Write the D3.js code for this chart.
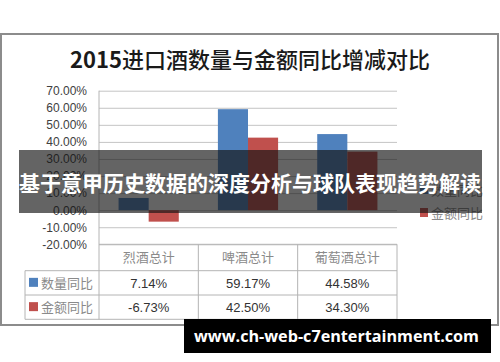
<!DOCTYPE html>
<html lang="zh">
<head>
<meta charset="UTF-8">
<title>2015进口酒数量与金额同比增减对比</title>
<script src="https://d3js.org/d3.v7.min.js"></script>
<style>
  body { margin: 0; background: #fff; }
  svg { display: block; font-family: "Noto Sans CJK SC", "Noto Sans", sans-serif; }
  .y-axis path { display: none; }
  .y-axis text { fill: #404040; font-size: 12px; font-family: "Liberation Sans", "Noto Sans", sans-serif; }
  .grid line { stroke: #c4c4c4; }
  .grid path { display: none; }
</style>
</head>
<body>
<svg id="chart" width="500" height="362"></svg>
<script>
// chart data
const categories = ["烈酒总计", "啤酒总计", "葡萄酒总计"];
const seriesNames = ["数量同比", "金额同比"];
const qtyValues = [7.14, 59.17, 44.58];   // 数量同比 (%)
const amtValues = [-6.73, 42.50, 34.30];  // 金额同比 (%)
const yTicks = [-20, -10, 0, 10, 20, 30, 40, 50, 60, 70];
const colors = ["#4f81bd", "#c0504d"];

const svg = d3.select("#chart");

// outer frame
svg.append("rect")
  .attr("x", 1).attr("y", 34).attr("width", 497).attr("height", 291)
  .attr("fill", "#fff").attr("stroke", "#8c8c8c").attr("stroke-width", 2);

// title
const title = svg.append("text")
  .attr("x", 250).attr("y", 68)
  .attr("text-anchor", "middle")
  .attr("font-size", 22).attr("fill", "#1a1a1a");
title.append("tspan").attr("font-weight", "bold").text("2015");
title.append("tspan").attr("font-weight", 500).text("进口酒数量与金额同比增减对比");

const plot = { left: 99, right: 397, top: 90.7, bottom: 244.3 };

const y = d3.scaleLinear().domain([-20, 70]).range([plot.bottom, plot.top]);
const x = d3.scaleBand().domain(categories).range([plot.left, plot.right]);
const x1 = d3.scaleBand().domain(seriesNames).range([0, x.bandwidth()])
  .paddingInner(0).paddingOuter(0.65);

// gridlines
svg.append("g").attr("class", "grid")
  .attr("transform", `translate(${plot.left},0)`)
  .call(d3.axisLeft(y).tickValues(yTicks).tickSize(-(plot.right - plot.left)).tickFormat(""));

// y axis labels
svg.append("g").attr("class", "y-axis")
  .attr("transform", `translate(${plot.left - 12},0)`)
  .call(d3.axisLeft(y).tickValues(yTicks).tickSize(0).tickPadding(0)
    .tickFormat(d => d.toFixed(2) + "%"));

// bars
const rows = categories.map((c, i) => ({ cat: c, vals: [qtyValues[i], amtValues[i]] }));
const groups = svg.append("g").selectAll("g").data(rows).join("g")
  .attr("transform", d => `translate(${x(d.cat)},0)`);
groups.selectAll("rect")
  .data(d => d.vals.map((v, j) => ({ s: seriesNames[j], v, j })))
  .join("rect")
  .attr("x", d => x1(d.s))
  .attr("width", x1.bandwidth())
  .attr("y", d => y(Math.max(0, d.v)))
  .attr("height", d => Math.abs(y(d.v) - y(0)))
  .attr("fill", d => colors[d.j]);

// data table
const tbl = { top: plot.bottom, rowH: [26.4, 24.3, 24.3], legendLeft: 25 };
const rowY = [tbl.top, tbl.top + tbl.rowH[0], tbl.top + tbl.rowH[0] + tbl.rowH[1]];
const tblBottom = rowY[2] + tbl.rowH[2];
const lineColor = "#b4b4b4";
const tg = svg.append("g");

// horizontal lines
tg.append("line").attr("x1", plot.left).attr("x2", plot.right)
  .attr("y1", rowY[0]).attr("y2", rowY[0]).attr("stroke", lineColor);
[rowY[1], rowY[2], tblBottom].forEach(yy => {
  tg.append("line").attr("x1", tbl.legendLeft).attr("x2", plot.right)
    .attr("y1", yy).attr("y2", yy).attr("stroke", lineColor);
});
// vertical lines
tg.append("line").attr("x1", tbl.legendLeft).attr("x2", tbl.legendLeft)
  .attr("y1", rowY[1]).attr("y2", tblBottom).attr("stroke", lineColor);
tg.append("line").attr("x1", plot.left).attr("x2", plot.left)
  .attr("y1", plot.top).attr("y2", tblBottom).attr("stroke", lineColor);
categories.forEach(c => {
  const xx = x(c) + x.bandwidth();
  tg.append("line").attr("x1", xx).attr("x2", xx)
    .attr("y1", rowY[0]).attr("y2", tblBottom).attr("stroke", lineColor);
});

// header labels
tg.selectAll(".cat").data(categories).join("text")
  .attr("x", d => x(d) + x.bandwidth() / 2)
  .attr("y", rowY[0] + 18)
  .attr("text-anchor", "middle")
  .attr("font-size", 13).attr("fill", "#8a8a8a")
  .text(d => d);

// legend keys + values
[qtyValues, amtValues].forEach((vals, j) => {
  const cy = rowY[j + 1] + tbl.rowH[j + 1] / 2;
  tg.append("rect").attr("x", 29).attr("y", cy - 5).attr("width", 9).attr("height", 9)
    .attr("fill", colors[j]);
  tg.append("text").attr("x", 41).attr("y", cy + 5)
    .attr("font-size", 13).attr("fill", "#8a8a8a").text(seriesNames[j]);
  tg.selectAll(".v" + j).data(vals).join("text")
    .attr("x", (d, i) => x(categories[i]) + x.bandwidth() / 2)
    .attr("y", cy + 5)
    .attr("text-anchor", "middle")
    .attr("font-size", 13).attr("fill", "#333")
    .attr("font-family", "'Liberation Sans', sans-serif")
    .text(d => d.toFixed(2) + "%");
});

// right legend
seriesNames.forEach((s, j) => {
  const ly = 190 + j * 23;
  svg.append("rect").attr("x", 420).attr("y", ly - 5).attr("width", 8).attr("height", 9)
    .attr("fill", colors[j]);
  svg.append("text").attr("x", 431).attr("y", ly + 5)
    .attr("font-size", 13).attr("fill", "#8a8a8a").text(s);
});

// overlay banner
svg.append("rect").attr("x", 19).attr("y", 150).attr("width", 463).attr("height", 63)
  .attr("fill", "rgba(20,20,20,0.66)");
svg.append("text").attr("x", 19).attr("y", 191)
  .attr("font-size", 21).attr("font-weight", "bold").attr("fill", "#fff")
  .text("基于意甲历史数据的深度分析与球队表现趋势解读");

// watermark
svg.append("rect").attr("x", 184).attr("y", 319).attr("width", 307).attr("height", 34)
  .attr("fill", "#000");
svg.append("text").attr("x", 194).attr("y", 342)
  .attr("font-size", 16).attr("font-weight", "bold").attr("fill", "#fff")
  .attr("font-family", "'Open Sans', 'DejaVu Sans', sans-serif")
  .attr("textLength", 285).attr("lengthAdjust", "spacingAndGlyphs")
  .text("www.ch-web-c7entertainment.com");
</script>
</body>
</html>
